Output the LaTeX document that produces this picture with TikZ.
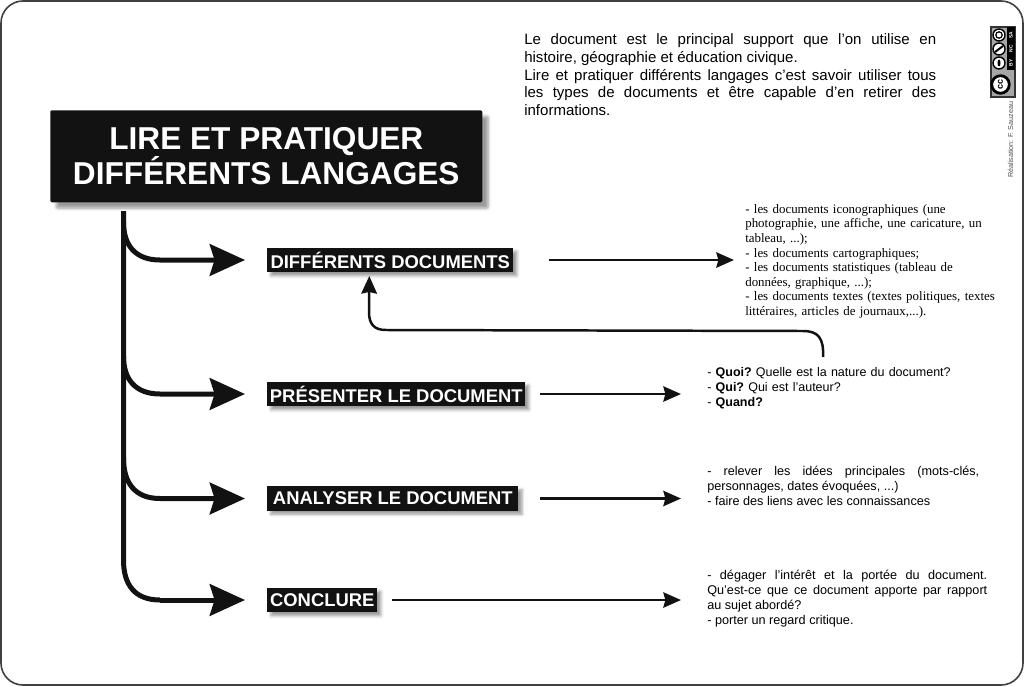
\documentclass[tikz,border=0pt]{standalone}
\usepackage{fontspec}
\setmainfont{Liberation Sans}
\newfontfamily\serifdoc{Liberation Serif}
\usetikzlibrary{arrows.meta,shadows.blur,calc}

\tikzset{
  titlebox/.style={fill=black!93,text=white,rounded corners=1pt,minimum width=108mm,minimum height=23mm,
    align=center,font=\bfseries\fontsize{22.5}{25}\selectfont,blur shadow={shadow xshift=1.5mm,shadow yshift=-1.5mm,shadow blur steps=6,shadow blur extra rounding=.5mm}},
  stepbox/.style={fill=black!93,text=white,minimum height=6.1mm,inner sep=0pt,
    font=\bfseries\fontsize{13.1}{14}\selectfont,blur shadow={shadow xshift=.9mm,shadow yshift=-.9mm,shadow blur steps=4}},
  note/.style={anchor=north west,inner sep=0pt,align=justify,font=\frenchspacing\fontsize{9}{10.7}\selectfont},
  trunk/.style={line width=1.25mm,draw=black!93},
  branch/.style={line width=1.25mm,draw=black!93,-{Stealth[length=8.8mm,width=7.9mm,inset=1.2mm]}},
  link/.style={line width=.72mm,draw=black!93,-{Stealth[length=4.4mm,width=3.8mm,inset=.5mm]}},
  licmark/.style={circle,draw=black,fill=white,line width=.35mm,minimum size=3mm,inner sep=0pt}
}

\begin{document}
\begin{tikzpicture}[x=0.25mm,y=-0.25mm]
\useasboundingbox (0,0) rectangle (1024,686);
\draw[line width=.4mm,black!75,rounded corners=5.5mm] (1,1) rectangle (1023,685);

% boxes
\node[titlebox,anchor=north west] (title) at (50,110) {LIRE ET PRATIQUER\\DIFFÉRENTS LANGAGES};
\node[stepbox,anchor=west,minimum width=61.5mm] (docs) at (267,260) {DIFFÉRENTS DOCUMENTS};
\node[stepbox,anchor=west,minimum width=64.5mm] (pres) at (267,394) {PRÉSENTER LE DOCUMENT};
\node[stepbox,anchor=west,minimum width=62.8mm] (anal) at (267,498.5) {ANALYSER LE DOCUMENT};
\node[stepbox,anchor=west,minimum width=27.5mm] (concl) at (267,600) {CONCLURE};

% texts
\node[note,text width=103mm,font=\frenchspacing\fontsize{10.7}{12.6}\selectfont] (intro) at (524,33.5) {Le document est le principal support que l'on utilise en\linebreak
histoire, géographie et éducation civique.\\
Lire et pratiquer différents langages c'est savoir utiliser tous\linebreak
les types de documents et être capable d'en retirer des\linebreak
informations.};
\node[note,text width=66mm,align=left,font=\frenchspacing\serifdoc\fontsize{9.2}{10.4}\selectfont] (doctext) at (745,204) {- les documents iconographiques (une\\
photographie, une affiche, une caricature, un\\
tableau, ...);\\
- les documents cartographiques;\\
- les documents statistiques (tableau de\\
données, graphique, ...);\\
- les documents textes (textes politiques, textes\\
littéraires, articles de journaux,...).};
\node[note,text width=72mm,align=left,font=\frenchspacing\fontsize{8.9}{10.7}\selectfont] (prestext) at (707,367) {- \textbf{Quoi?} Quelle est la nature du document?\\
- \textbf{Qui?} Qui est l'auteur?\\
- \textbf{Quand?}};
\node[note,text width=68mm] (analtext) at (707,465.5) {- relever les idées principales (mots-clés,\linebreak
personnages, dates évoquées, ...)\\
- faire des liens avec les connaissances};
\node[note,text width=70mm] (concltext) at (707,569.5) {- dégager l'intérêt et la portée du document.\linebreak
Qu'est-ce que ce document apporte par rapport\linebreak
au sujet abordé?\\
- porter un regard critique.};
\node[rotate=90,anchor=west,inner sep=0pt,text=black!70,font=\fontsize{5.1}{6}\selectfont] (credit) at (1010.5,178) {Réalisation: F. Sauzeau};

% licence badge
\fill[black!35,draw=black!80,line width=.3mm] (991,27) rectangle (1015,97);
\fill[black] (1007,27) rectangle (1015,70);
\node[circle,draw=black,fill=white,line width=.7mm,minimum size=4.4mm,inner sep=0pt,rotate=90,font=\bfseries\fontsize{6.5}{7}\selectfont] (cc) at (1000.5,84.5) {cc};
\node[licmark] (licsa) at (999,35) {};
\node[licmark] (licnc) at (999,49) {};
\node[licmark] (licby) at (999,63) {};
\draw[line width=.3mm] (licsa) circle (3.2);
\draw[line width=.5mm] (995,52) -- (1003,46);
\fill (licby.center) ellipse (1.5 and 3.5);
\foreach \y/\txt in {35/SA,49/NC,63/BY}
  \node[rotate=90,text=white,inner sep=0pt,font=\bfseries\fontsize{3.5}{4}\selectfont] at (1011,\y) {\txt};

% trunk and branches
\coordinate (top) at (123.5,211);
\coordinate (bend1) at (123.5,222);
\coordinate (bend2) at (123.5,356);
\coordinate (bend3) at (123.5,458);
\coordinate (bend4) at (123.5,560);
\draw[trunk] (top) -- (bend4) .. controls (123.5,585) and (135,600) .. (160,600);
\draw[branch] (bend1) .. controls (123.5,245) and (135,260) .. (160,260) -- ($(docs.west)+(-22,0)$);
\draw[branch] (bend2) .. controls (123.5,379) and (135,394) .. (160,394) -- ($(pres.west)+(-22,0)$);
\draw[branch] (bend3) .. controls (123.5,483) and (135,498.5) .. (160,498.5) -- ($(anal.west)+(-22,0)$);
\draw[branch] (160,600) -- ($(concl.west)+(-22,0)$);

% links to the texts
\draw[link] ($(docs.east)+(35,0)$) -- (734,260);
\draw[link] ($(pres.east)+(14,0)$) -- (681,394);
\draw[link] ($(anal.east)+(21,0)$) -- (681,498.5);
\draw[link] ($(concl.east)+(14,0)$) -- (681,600);
\coordinate (fromquoi) at (823,357);
\draw[line width=.62mm,draw=black!93,-{Stealth[length=4.4mm,width=3.9mm,inset=.4mm]}] (fromquoi) .. controls (824,338) and (818,331) .. (803,331) -- (386,330) .. controls (374,330) and (369,324) .. (369,312) -- ($(docs.south)+(-21,3.5)$);
\end{tikzpicture}
\end{document}
